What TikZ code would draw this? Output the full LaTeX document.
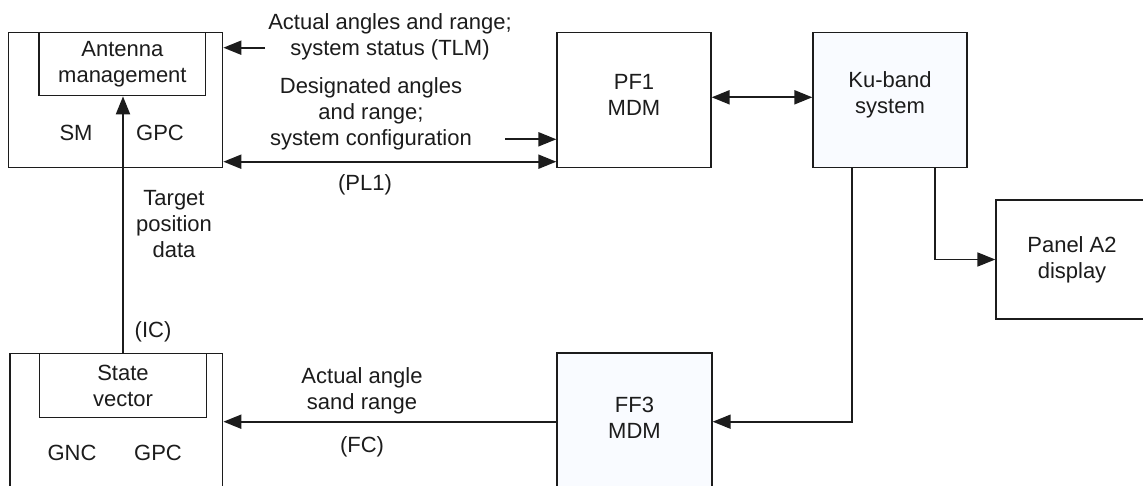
\documentclass[tikz,border=0pt]{standalone}
\usepackage{fontspec}
\setmainfont{Liberation Sans}
\usetikzlibrary{arrows.meta,calc}
\definecolor{boxfill}{RGB}{249,251,255}
\definecolor{ink}{RGB}{28,28,28}
\begin{document}
\begin{tikzpicture}[x=1pt,y=-1pt,
  blk/.style={draw=ink, line width=1.3pt, inner sep=0pt, fill=white},
  tinted/.style={blk, fill=boxfill},
  lbl/.style={inner sep=0pt, align=center, font=\fontsize{22}{26}\selectfont, text=ink},
  conn/.style={draw=ink, line width=2pt, -{Triangle[length=18pt,width=14pt]}},
  biconn/.style={draw=ink, line width=2pt, {Triangle[length=18pt,width=14pt]}-{Triangle[length=18pt,width=14pt]}},
  wire/.style={draw=ink, line width=1.7pt, -{Triangle[length=18pt,width=14pt]}}]
\useasboundingbox (0,0) rectangle (1143,486);
\clip (0,0) rectangle (1143,486);
\fill[white] (0,0) rectangle (1143,486);

% boxes
\node[blk, minimum width=214.4pt, minimum height=135.4pt] (sm) at (115.5,100) {};
\node[blk, minimum width=166.7pt, minimum height=63.4pt] (ant) at (122.4,64) {};
\node[blk, minimum width=154pt, minimum height=135.4pt] (pf1) at (634,100) {};
\node[tinted, minimum width=154pt, minimum height=135.4pt] (ku) at (890,100) {};
\node[blk, minimum width=152pt, minimum height=119pt] (panel) at (1072,259.5) {};
\node[blk, minimum width=212.7pt, minimum height=166.7pt] (state) at (116.4,436.7) {};
\node[blk, minimum width=167.4pt, minimum height=64.4pt] (sv) at (123,385.5) {};
\node[tinted, minimum width=155pt, minimum height=167pt] (ff3) at (634.5,436.5) {};

% box texts
\node[lbl] (anttext) at (122.4,64.5) {Antenna\\management};
\node[lbl] (smtext) at (76,133) {SM};
\node[lbl] (gpc1) at (160,133) {GPC};
\node[lbl] (pf1text) at (634,95) {PF1\\MDM};
\node[lbl] (kutext) at (890,95) {Ku-band\\system};
\node[lbl] (paneltext) at (1072,259.5) {Panel A2\\display};
\node[lbl] (svtext) at (123,386) {State\\vector};
\node[lbl] (gnc) at (72,453) {GNC};
\node[lbl] (gpc2) at (158,453) {GPC};
\node[lbl] (ff3text) at (634.5,417.5) {FF3\\MDM};

% connector labels
\node[lbl] (tlm) at (390,37) {Actual angles and range;\\system status (TLM)};
\node[lbl] (desig) at (371,113.5) {Designated angles\\and range;\\system configuration};
\node[lbl] (pl1) at (365,185) {(PL1)};
\node[lbl] (target) at (174,224) {Target\\position\\data};
\node[lbl] (ic) at (153,332) {(IC)};
\node[lbl] (actual) at (362,390.5) {Actual angle\\sand range};
\node[lbl] (fc) at (362,447) {(FC)};

% helper coordinates
\coordinate (tlmstart) at (265,47.7);
\coordinate (cfgstart) at (505,139.3);
\coordinate (plrow) at (390,161.7);
\coordinate (kurow) at (760,97.3);
\coordinate (kl) at (852,0);
\coordinate (kr) at (934.7,0);
\coordinate (fcrow) at (450,421.7);

% connectors
\draw[conn] (tlmstart) -- (sm.east |- tlmstart);
\draw[conn] (cfgstart) -- (pf1.west |- cfgstart);
\draw[biconn] (sm.east |- plrow) -- (pf1.west |- plrow);
\draw[biconn] (pf1.east |- kurow) -- (ku.west |- kurow);
\draw[conn] (sv.north) -- (sv.north |- ant.south);
\draw[wire] (ku.south -| kr) |- (panel.west);
\draw[wire] (ku.south -| kl) |- (ff3.east |- fcrow);
\draw[conn] (ff3.west |- fcrow) -- (state.east |- fcrow);
\end{tikzpicture}
\end{document}
